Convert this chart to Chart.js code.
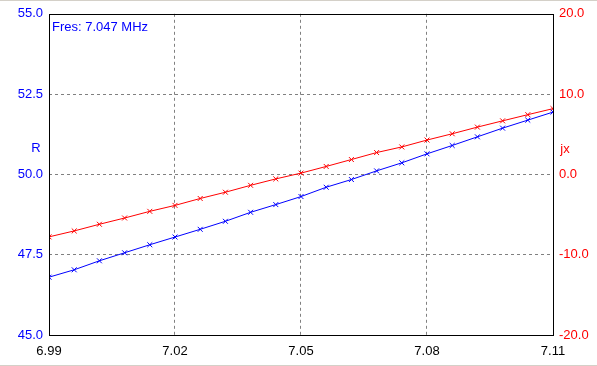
<!DOCTYPE html>
<html>
<head>
<meta charset="utf-8">
<script src="https://cdn.jsdelivr.net/npm/chart.js@4.4.0/dist/chart.umd.min.js"></script>
<style>
html,body{margin:0;padding:0;background:#fff;}
#wrap{width:597px;height:366px;position:relative;}
canvas{display:block;}
</style>
</head>
<body>
<div id="wrap"><canvas id="c" width="597" height="366"></canvas></div>
<script>
const freqs = [6.99,6.996,7.002,7.008,7.014,7.02,7.026,7.032,7.038,7.044,7.05,7.056,7.062,7.068,7.074,7.08,7.086,7.092,7.098,7.104,7.11];
const rValues = [46.80,47.03,47.31,47.56,47.81,48.05,48.29,48.54,48.82,49.06,49.31,49.60,49.84,50.11,50.36,50.64,50.90,51.17,51.44,51.69,51.94];
const jxValues = [-7.78,-7.04,-6.21,-5.43,-4.60,-3.86,-3.00,-2.22,-1.36,-0.56,0.16,0.99,1.85,2.72,3.42,4.28,5.06,5.89,6.67,7.44,8.19];
const xTicks = [6.99,7.02,7.05,7.08,7.11];
const rTicks = [45.0,47.5,50.0,52.5,55.0];
const jxTicks = [-20.0,-10.0,0.0,10.0,20.0];
const fresLabel = 'Fres: 7.047 MHz';

const FONT = {family:'"Liberation Sans", Arial, sans-serif', size:13};

const frame = {
  id:'frame',
  beforeDraw(chart){
    const ctx = chart.ctx;
    ctx.save();
    ctx.fillStyle = '#d4d0c8';
    ctx.fillRect(0,0,chart.width,1);
    ctx.fillRect(0,chart.height-1,chart.width,1);
    ctx.restore();
  },
  afterDatasetsDraw(chart){
    const ctx = chart.ctx, a = chart.chartArea;
    ctx.save();
    ctx.setLineDash([]);
    ctx.strokeStyle = '#000';
    ctx.lineWidth = 1;
    ctx.strokeRect(Math.round(a.left)+0.5, Math.round(a.top)+0.5, Math.round(a.right-a.left)-1+1, Math.round(a.bottom-a.top));
    ctx.font = '13px "Liberation Sans", Arial, sans-serif';
    ctx.textBaseline = 'middle';
    ctx.fillStyle = '#0000ff';
    ctx.textAlign = 'left';
    ctx.fillText(fresLabel, a.left+3, 27);
    ctx.textAlign = 'center';
    ctx.fillText('R', 36, 148);
    ctx.fillStyle = '#ff0000';
    ctx.fillText('jx', 565, 149);
    ctx.restore();
  }
};

function gridColor(ctx){
  const n = ctx.scale.ticks.length;
  return (ctx.index===0 || ctx.index===n-1) ? 'rgba(0,0,0,0)' : '#808080';
}

new Chart(document.getElementById('c'), {
  type:'line',
  data:{
    datasets:[
      {label:'R', data:freqs.map((f,i)=>({x:f,y:rValues[i]})), yAxisID:'yR', borderColor:'#0000ff', backgroundColor:'#0000ff', borderWidth:1, pointStyle:'crossRot', pointRadius:3.5, pointBorderWidth:1, pointBorderColor:'#0000ff', tension:0},
      {label:'jx', data:freqs.map((f,i)=>({x:f,y:jxValues[i]})), yAxisID:'yX', borderColor:'#ff0000', backgroundColor:'#ff0000', borderWidth:1, pointStyle:'crossRot', pointRadius:3.5, pointBorderWidth:1, pointBorderColor:'#ff0000', tension:0}
    ]
  },
  options:{
    responsive:false, animation:false, devicePixelRatio:1,
    layout:{padding:{top:11,left:0,right:0,bottom:0}},
    plugins:{legend:{display:false}, tooltip:{enabled:false}},
    elements:{line:{borderCapStyle:'butt'}},
    scales:{
      x:{type:'linear', min:6.99, max:7.11,
        afterBuildTicks(s){ s.ticks = xTicks.map(v=>({value:v})); },
        afterFit(s){ s.height = 31; },
        ticks:{color:'#000', font:FONT, padding:9, maxRotation:0, autoSkip:false, callback:v=>Number(v).toFixed(2)},
        grid:{color:gridColor, drawTicks:false, lineWidth:1},
        border:{display:false, dash:[3,3]}
      },
      yR:{type:'linear', position:'left', min:45, max:55,
        afterBuildTicks(s){ s.ticks = rTicks.map(v=>({value:v})); },
        afterFit(s){ s.width = 49; },
        ticks:{color:'#0000ff', font:FONT, padding:6, autoSkip:false, callback:v=>Number(v).toFixed(1)},
        grid:{color:gridColor, drawTicks:false, lineWidth:1},
        border:{display:false, dash:[3,3]}
      },
      yX:{type:'linear', position:'right', min:-20, max:20,
        afterBuildTicks(s){ s.ticks = jxTicks.map(v=>({value:v})); },
        afterFit(s){ s.width = 44; },
        ticks:{color:'#ff0000', font:FONT, padding:6, autoSkip:false, callback:v=>Number(v).toFixed(1)},
        grid:{display:false, drawTicks:false},
        border:{display:false}
      }
    }
  },
  plugins:[frame]
});
</script>
</body>
</html>
